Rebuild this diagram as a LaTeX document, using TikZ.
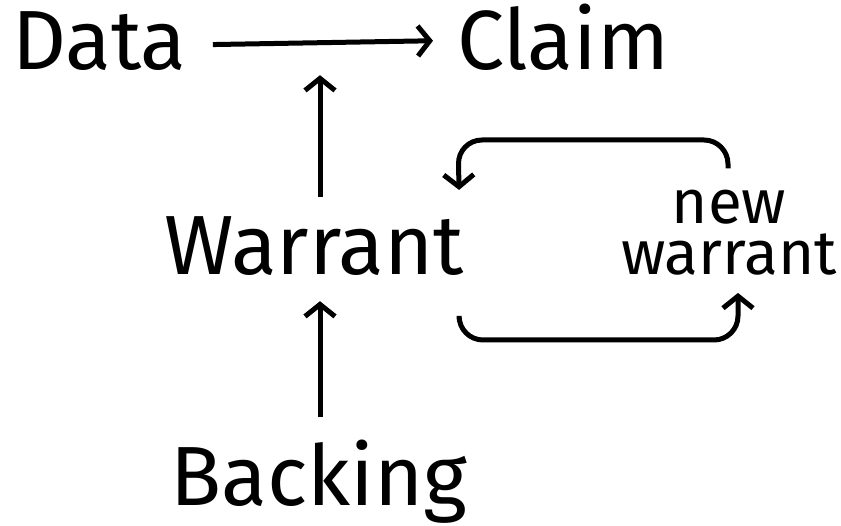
\documentclass[tikz,border=0pt]{standalone}
\usepackage{fontspec}
\setmainfont{Fira Sans}
\usetikzlibrary{arrows.meta,calc}
\begin{document}
\begin{tikzpicture}[x=1pt,y=-1pt,
  big/.style={font=\fontsize{84}{90}\selectfont, inner sep=0pt},
  smalltxt/.style={font=\fontsize{62}{51}\selectfont, inner sep=0pt, align=center},
  arr/.style={line width=5pt, -{Straight Barb[length=12pt,width=30pt]}}]
\useasboundingbox (0,0) rectangle (841,526);
\node[big, anchor=base west] (data) at (12,70) {Data};
\node[big, anchor=base west] (claim) at (457,70) {Claim};
\node[big, anchor=base] (warrant) at (314,275) {Warrant};
\node[big, anchor=base] (backing) at (319,505) {Backing};
\node[smalltxt, anchor=base] (new) at (729,275) {new\\warrant};
\draw[arr] ($(data.east)+(26,3)$) -- ($(claim.west)+(-24,3)$);
\coordinate (w1) at ($(warrant.north)+(6,-20)$);
\draw[arr] (w1) -- ($(w1 |- claim.south)+(0,4)$);
\coordinate (b1) at ($(backing.north)+(1,-22)$);
\draw[arr] (b1) -- ($(b1 |- warrant.south)+(0,25)$);
\draw[arr, rounded corners=24pt] ($(new.north)+(-1,-22)$) |- (458,140) -- ($(warrant.north east)+(-5,-27)$);
\draw[arr, rounded corners=24pt] ($(warrant.south east)+(-5,43)$) |- (738,340) -- ($(new.south)+(9,17)$);
\end{tikzpicture}
\end{document}
